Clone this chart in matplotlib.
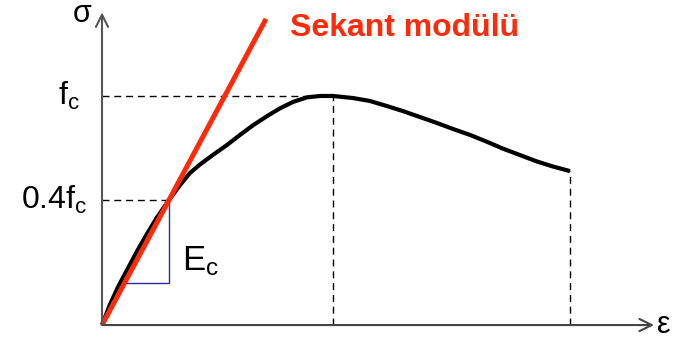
import numpy as np
import matplotlib
matplotlib.use("Agg")
import matplotlib.pyplot as plt

plt.rcParams['font.family'] = ['Liberation Sans', 'DejaVu Sans']
plt.rcParams['mathtext.fontset'] = 'custom'
plt.rcParams['mathtext.rm'] = 'Liberation Sans'
plt.rcParams['mathtext.it'] = 'Liberation Sans'

# stress-strain curve (strain in arbitrary units, stress / fc)
strain = [0.0, 0.08, 0.16, 0.25, 0.35, 0.45, 0.55, 0.67, 0.78, 0.88, 0.98,
          1.11, 1.25, 1.38, 1.51, 1.65, 1.78, 1.91, 2.05, 2.18, 2.31,
          2.51, 2.68, 2.85, 3.01, 3.18, 3.35, 3.51, 3.68, 3.85, 4.01,
          4.18, 4.35, 4.51, 4.68]
stress = [0.0, 0.090, 0.166, 0.240, 0.322, 0.398, 0.470, 0.546, 0.611, 0.664,
          0.701, 0.743, 0.786, 0.830, 0.872, 0.912, 0.946, 0.974, 0.994, 1.0,
          1.0, 0.991, 0.978, 0.956, 0.934, 0.908, 0.882, 0.856, 0.830, 0.800,
          0.770, 0.742, 0.714, 0.692, 0.672]

fc = 1.0
low_level = 0.546      # where the "0.4fc" line is drawn
eps_peak = 2.31
eps_end = 4.68
eps_low = 0.67         # secant meets the curve here
secant_end = 1.64
ec_left = 0.22
ec_bottom = 0.183

fig = plt.figure(figsize=(6.73, 3.42), dpi=100)
ax = fig.add_axes([0, 0, 1, 1])
ax.set_xlim(-1.02, 5.71)
ax.set_ylim(-0.074, 1.419)
ax.axis('off')

# axes with open arrow heads
ax.annotate('', xy=(5.52, 0), xytext=(0, 0),
            arrowprops=dict(arrowstyle='->', color='#444444', lw=1.5,
                            mutation_scale=22, shrinkA=0, shrinkB=0))
ax.annotate('', xy=(0, 1.365), xytext=(0, 0),
            arrowprops=dict(arrowstyle='->', color='#555555', lw=1.5,
                            mutation_scale=22, shrinkA=0, shrinkB=0))

# dashed guides
dash = dict(color='black', lw=1, dashes=(5, 3.5))
ax.plot([0, eps_peak], [fc, fc], **dash)
ax.plot([eps_peak, eps_peak], [0, fc], **dash)
ax.plot([0, eps_low], [low_level, low_level], **dash)
ax.plot([eps_end, eps_end], [0, stress[-1]], **dash)

# Ec triangle
ax.plot([ec_left, eps_low, eps_low], [ec_bottom, ec_bottom, low_level],
        color='#2b2b9c', lw=1)

# curve
ax.plot(strain, stress, color='black', lw=3, solid_capstyle='butt',
        solid_joinstyle='round')

# secant line
slope = low_level / eps_low
ax.plot([0, secant_end], [0, slope * secant_end], color='#ff2a0a', lw=3.6,
        solid_capstyle='butt')

# labels
ax.text(-0.22, fc, r'$\mathregular{f_c}$', fontsize=23, ha='right', va='center')
ax.text(-0.15, low_level, r'$\mathregular{0.4f_c}$', fontsize=23, ha='right',
        va='center')
ax.text(0.80, 0.28, r'$\mathregular{E_c}$', fontsize=25, ha='left', va='center')
ax.text(-0.20, 1.36, 'σ', fontsize=22, ha='center', va='center')
ax.text(5.62, 0.0, 'ε', fontsize=22, ha='center', va='center')
ax.text(1.88, 1.295, 'Sekant modülü', fontsize=23, fontweight='bold',
        color='#ff2a0a', ha='left', va='center')

fig.savefig('out.png', dpi=100)
